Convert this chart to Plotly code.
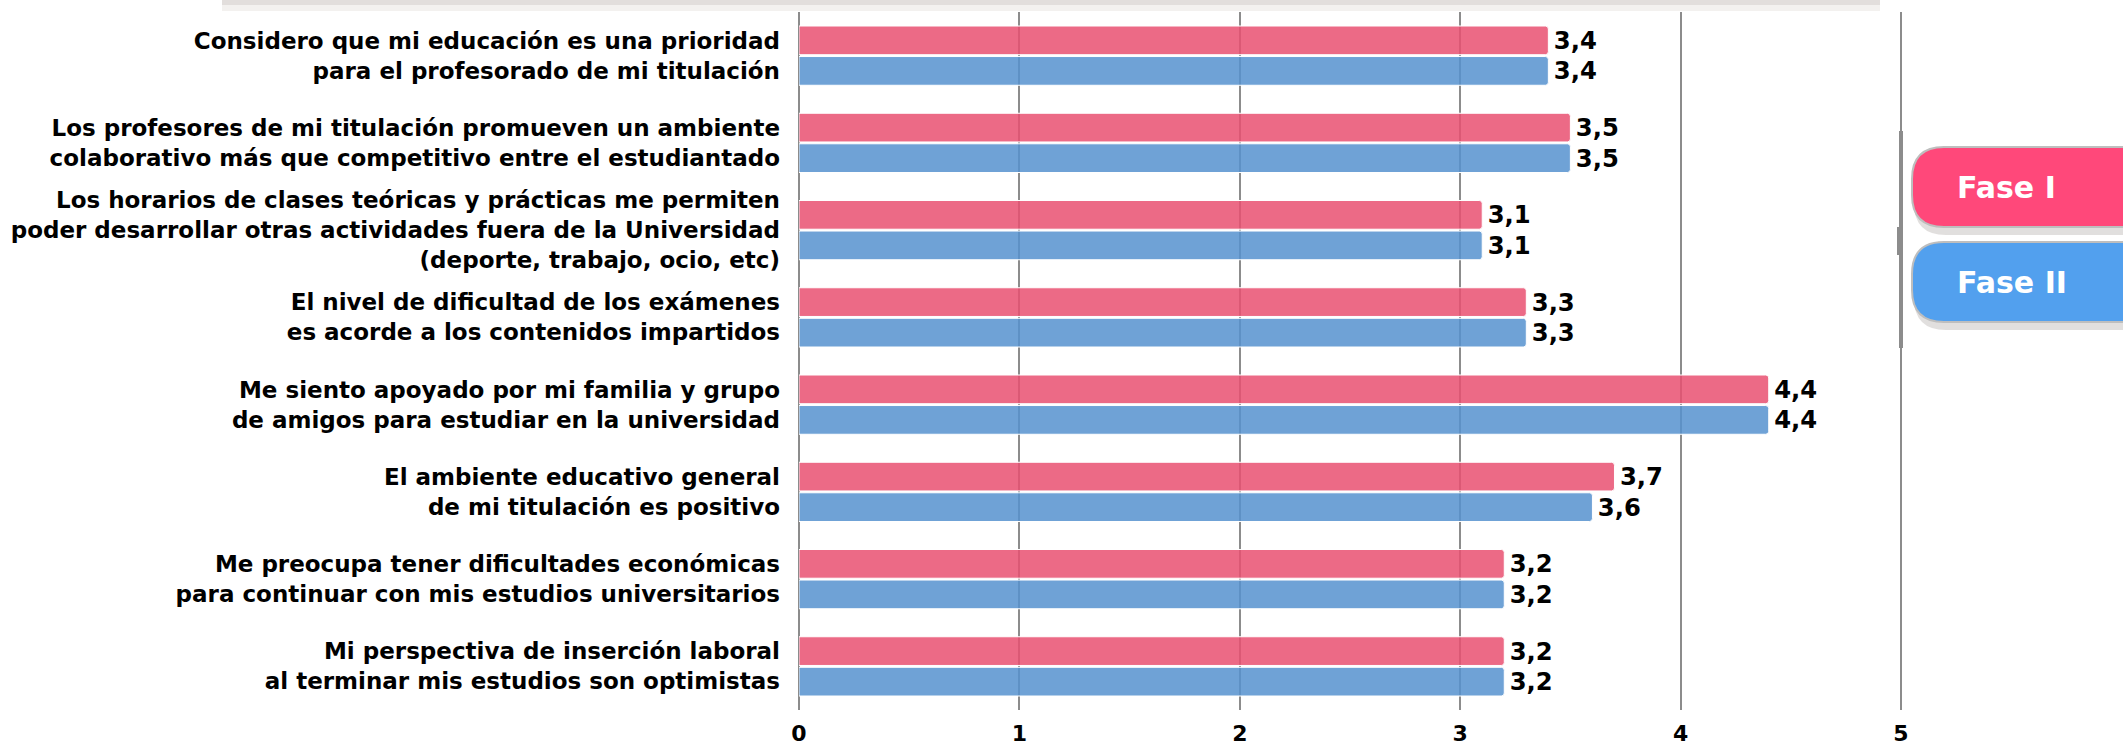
import plotly.graph_objects as go

categories = [
    "Considero que mi educación es una prioridad<br>para el profesorado de mi titulación",
    "Los profesores de mi titulación promueven un ambiente<br>colaborativo más que competitivo entre el estudiantado",
    "Los horarios de clases teóricas y prácticas me permiten<br>poder desarrollar otras actividades fuera de la Universidad<br>(deporte, trabajo, ocio, etc)",
    "El nivel de dificultad de los exámenes<br>es acorde a los contenidos impartidos",
    "Me siento apoyado por mi familia y grupo<br>de amigos para estudiar en la universidad",
    "El ambiente educativo general<br>de mi titulación es positivo",
    "Me preocupa tener dificultades económicas<br>para continuar con mis estudios universitarios",
    "Mi perspectiva de inserción laboral<br>al terminar mis estudios son optimistas",
]
fase1 = [3.4, 3.5, 3.1, 3.3, 4.4, 3.7, 3.2, 3.2]
fase2 = [3.4, 3.5, 3.1, 3.3, 4.4, 3.6, 3.2, 3.2]
series_names = ["Fase I", "Fase II"]
x_ticks = [0, 1, 2, 3, 4, 5]

W, H = 2123, 747
L, T, B = 799, 12, 37
X_MAX = 5.05
UNIT = (1901 - 799) / 5.0
R = W - L - int(round(UNIT * X_MAX))
PW, PH = W - L - R, H - T - B


def px(x):
    return (x - L) / PW


def py(y):
    return 1 - (y - T) / PH


FONT = "DejaVu Sans"

fig = go.Figure()
for name, vals, col in [
    (series_names[0], fase1, "rgba(233,80,113,0.85)"),
    (series_names[1], fase2, "rgba(86,146,207,0.85)"),
]:
    fig.add_trace(go.Bar(
        y=categories, x=vals, name=name, orientation="h",
        marker=dict(color=col, line=dict(color="white", width=1), cornerradius=3),
        text=["\u200a" + f"{v:.1f}".replace(".", ",") for v in vals],
        textposition="outside", cliponaxis=False,
        textfont=dict(family=FONT, size=33, color="black", weight="bold"),
        showlegend=False, hoverinfo="skip",
    ))

shapes = []
# faint card shadow at the top
shapes.append(dict(type="rect", xref="paper", yref="paper",
                   x0=px(222), x1=px(1880), y0=py(0), y1=py(5),
                   fillcolor="rgb(226,222,220)", line=dict(width=0), layer="below"))
shapes.append(dict(type="rect", xref="paper", yref="paper",
                   x0=px(222), x1=px(1880), y0=py(5), y1=py(11),
                   fillcolor="rgb(243,241,239)", line=dict(width=0), layer="below"))
# thicker segment on gridline 5 (legend container edge)
shapes.append(dict(type="line", xref="paper", yref="paper",
                   x0=px(1901), x1=px(1901), y0=py(131), y1=py(348),
                   line=dict(color="rgb(140,140,140)", width=4)))
shapes.append(dict(type="line", xref="paper", yref="paper",
                   x0=px(1900), x1=px(1900), y0=py(227), y1=py(255),
                   line=dict(color="rgb(140,140,140)", width=6)))


def pill(x0, y0, x1, y1, r):
    return (f"M {px(x0+r)} {py(y0)} L {px(x1-r)} {py(y0)} "
            f"Q {px(x1)} {py(y0)} {px(x1)} {py(y0+r)} L {px(x1)} {py(y1-r)} "
            f"Q {px(x1)} {py(y1)} {px(x1-r)} {py(y1)} L {px(x0+r)} {py(y1)} "
            f"Q {px(x0)} {py(y1)} {px(x0)} {py(y1-r)} L {px(x0)} {py(y0+r)} "
            f"Q {px(x0)} {py(y0)} {px(x0+r)} {py(y0)} Z")


annotations = []
for (y0, y1, col, label) in [(147, 227, "rgb(255,72,122)", series_names[0]),
                             (242, 322, "rgb(82,160,238)", series_names[1])]:
    shapes.append(dict(type="path", xref="paper", yref="paper",
                       path=pill(1914, y0 + 5, 2160, y1 + 8, 32),
                       fillcolor="rgba(120,110,105,0.22)", line=dict(width=0)))
    shapes.append(dict(type="path", xref="paper", yref="paper",
                       path=pill(1912, y0, 2160, y1, 32),
                       fillcolor=col, line=dict(color="rgb(190,190,190)", width=2)))
    annotations.append(dict(xref="paper", yref="paper", x=px(1955), y=py((y0 + y1) / 2),
                            xanchor="left", yanchor="middle", showarrow=False,
                            text=f"<b>{label}</b>",
                            font=dict(family=FONT, size=30, color="white")))

fig.update_layout(
    width=W, height=H,
    margin=dict(l=L, r=R, t=T, b=B, pad=0),
    plot_bgcolor="white", paper_bgcolor="white",
    barmode="group", bargap=0.3, bargroupgap=0.06,
    shapes=shapes, annotations=annotations,
    xaxis=dict(range=[0, X_MAX], tickvals=x_ticks, ticktext=[str(t) for t in x_ticks],
               showgrid=True, gridcolor="rgb(140,140,140)", gridwidth=2,
               zeroline=True, zerolinecolor="rgb(140,140,140)", zerolinewidth=2,
               showline=False, ticks="", ticklabelstandoff=8, automargin=False,
               tickfont=dict(family=FONT, size=22, color="black", weight="bold")),
    yaxis=dict(autorange="reversed", showgrid=False, zeroline=False, showline=False,
               ticks="", ticklabelstandoff=18, automargin=False,
               tickfont=dict(family=FONT, size=23, color="black", weight="bold")),
)

fig.write_html("out.html", config={"displayModeBar": False},
               post_script="document.body.style.margin='0px';document.body.style.overflow='hidden';")
